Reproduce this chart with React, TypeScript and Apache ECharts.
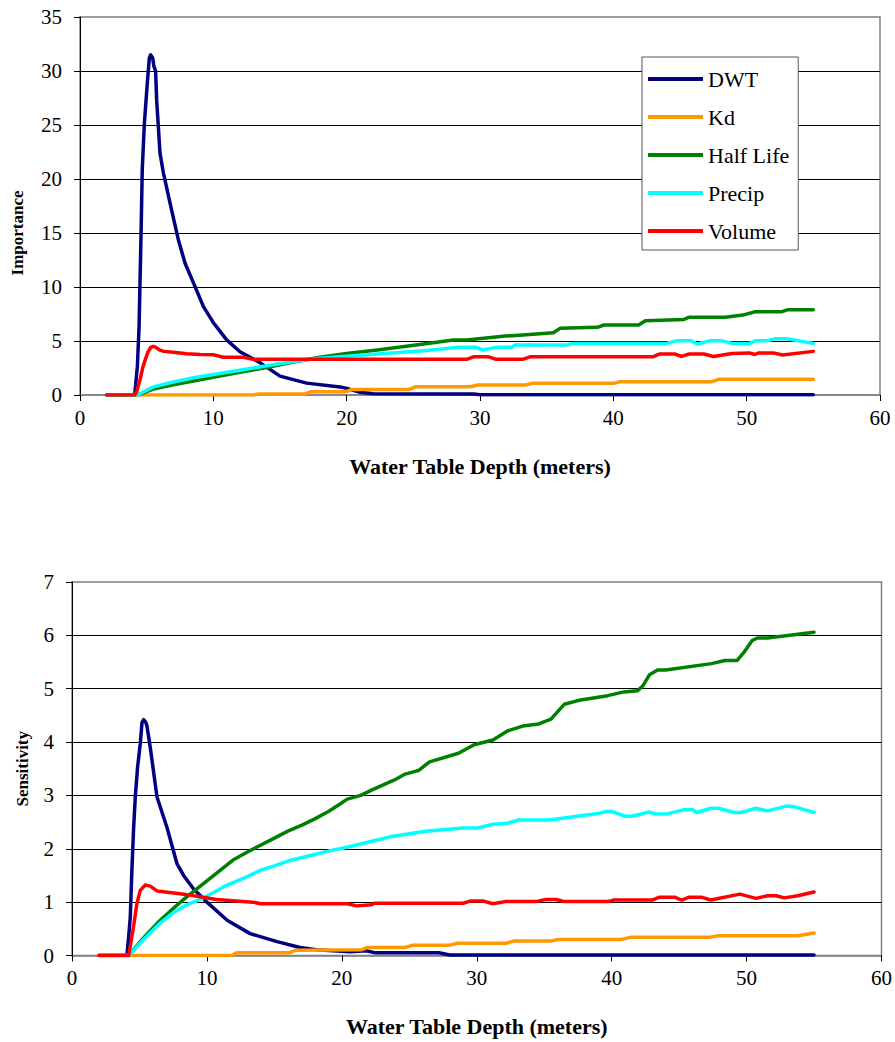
import React, { useEffect, useRef } from "react";
import * as echarts from "echarts";

type Pt = [number, number];

// ---- Importance vs. water table depth (top panel) ----
const impDWT: Pt[] = [
  [2, 0], [4.1, 0], [4.3, 2.6], [4.43, 6.3], [4.5, 10.4], [4.58, 15], [4.67, 20.9],
  [4.83, 25.2], [5.05, 28.9], [5.2, 31.2], [5.3, 31.5], [5.45, 31.2], [5.55, 30.4],
  [5.67, 30], [5.75, 27.3], [6.0, 22.4], [6.25, 20.6], [6.5, 19.2], [6.75, 17.8],
  [7.37, 14.4], [7.88, 12.2], [8.5, 10.4], [9.25, 8.2], [10, 6.7], [11, 5.1], [12, 4.0],
  [13.5, 3.0], [15, 1.75], [17, 1.1], [19.5, 0.75], [20.2, 0.55], [21, 0.25], [22, 0.12],
  [29.5, 0.1], [30, 0.02], [55, 0.02],
];
const impKd: Pt[] = [
  [2, 0], [13, 0], [13.4, 0.1], [16.9, 0.1], [17.3, 0.3], [19.9, 0.3], [20.4, 0.52],
  [24.7, 0.52], [25.2, 0.77], [29.3, 0.77], [29.8, 0.93], [33.4, 0.93], [33.9, 1.08],
  [40, 1.08], [40.5, 1.23], [47.4, 1.23], [47.9, 1.45], [55, 1.45],
];
const impHalfLife: Pt[] = [
  [2, 0], [4.3, 0], [5.5, 0.55], [7, 0.95], [8.5, 1.3], [10, 1.65], [12, 2.1], [14, 2.55],
  [16, 3.05], [18, 3.5], [20, 3.85], [22.3, 4.17], [25.2, 4.63], [28, 5.09], [29, 5.09],
  [31.9, 5.46], [33.2, 5.55], [35.5, 5.77], [36, 6.17], [38.8, 6.27], [39.3, 6.48],
  [41.9, 6.48], [42.4, 6.88], [45.3, 7.0], [45.7, 7.2], [48.4, 7.2], [49.7, 7.4],
  [50.6, 7.7], [52.6, 7.7], [53.1, 7.9], [55, 7.9],
];
const impPrecip: Pt[] = [
  [2, 0], [4.3, 0], [5.5, 0.75], [7, 1.2], [8.5, 1.6], [10, 1.9], [12, 2.3], [14, 2.7],
  [16, 3.1], [18, 3.4], [19.5, 3.55], [22.3, 3.8], [25.8, 4.1], [28.3, 4.41], [29.7, 4.41],
  [30.2, 4.17], [31.2, 4.41], [32.4, 4.41], [32.6, 4.63], [36.5, 4.63], [37, 4.78],
  [44, 4.78], [44.8, 5.03], [45.8, 5.03], [46.3, 4.72], [47.3, 5.03], [48.1, 5.03],
  [48.9, 4.78], [50.2, 4.78], [50.7, 5.03], [51.6, 5.03], [52.1, 5.2], [53, 5.2], [55, 4.78],
];
const impVolume: Pt[] = [
  [2, 0], [4.1, 0], [4.25, 0.3], [4.5, 1.4], [4.7, 2.5], [4.9, 3.3], [5.1, 4.0], [5.3, 4.4],
  [5.5, 4.5], [5.7, 4.4], [6.0, 4.15], [6.3, 4.04], [7, 3.95], [8, 3.82], [9, 3.75],
  [10, 3.73], [10.75, 3.5], [12.25, 3.5], [13, 3.3], [29, 3.3], [29.55, 3.55], [30.6, 3.55],
  [31.2, 3.3], [33.2, 3.3], [33.8, 3.55], [43, 3.55], [43.5, 3.8], [44.6, 3.8], [45.1, 3.57],
  [45.7, 3.8], [46.8, 3.8], [47.5, 3.57], [48.9, 3.85], [50.2, 3.9], [50.6, 3.75],
  [50.9, 3.9], [52, 3.9], [52.7, 3.7], [55, 4.04],
];

// ---- Sensitivity vs. water table depth (bottom panel) ----
const senDWT: Pt[] = [
  [2, 0], [4.07, 0], [4.2, 0.35], [4.32, 0.72], [4.44, 1.6], [4.56, 2.35], [4.69, 2.97],
  [4.86, 3.53], [5.06, 3.97], [5.19, 4.37], [5.31, 4.42], [5.45, 4.38], [5.55, 4.31],
  [5.8, 3.9], [6.3, 2.97], [7.04, 2.4], [7.78, 1.72], [8.27, 1.5], [9.0, 1.25], [10, 1.0],
  [11.5, 0.66], [13.2, 0.41], [15.2, 0.26], [16.9, 0.15], [18.1, 0.11], [20.6, 0.07],
  [21.8, 0.09], [22.5, 0.05], [27.2, 0.05], [28, 0.01], [55, 0.01],
];
const senKd: Pt[] = [
  [2, 0], [11.8, 0], [12.2, 0.05], [16.1, 0.05], [16.6, 0.1], [21.5, 0.11], [21.9, 0.15],
  [24.7, 0.15], [25.2, 0.19], [27.9, 0.19], [28.6, 0.23], [32.2, 0.23], [32.7, 0.27],
  [35.5, 0.27], [36, 0.3], [40.7, 0.3], [41.4, 0.34], [47.2, 0.34], [47.9, 0.37],
  [53.8, 0.37], [55, 0.42],
];
const senHalfLife: Pt[] = [
  [2, 0], [4.2, 0], [5.3, 0.33], [6.5, 0.65], [7.5, 0.88], [8.5, 1.1], [10, 1.4], [11, 1.6],
  [12, 1.8], [13, 1.94], [14, 2.07], [15, 2.2], [16, 2.33], [17, 2.44], [18, 2.56], [19, 2.7],
  [19.87, 2.84], [20.4, 2.93], [21.4, 3.0], [22.2, 3.1], [23.9, 3.29], [24.7, 3.4],
  [25.7, 3.47], [26.5, 3.63], [28.65, 3.79], [29.8, 3.95], [31.2, 4.04], [32.3, 4.21],
  [33.4, 4.3], [34.6, 4.34], [35.5, 4.43], [36.5, 4.71], [37.7, 4.79], [39.7, 4.87],
  [40.9, 4.94], [41.9, 4.96], [42.3, 5.05], [42.8, 5.26], [43.4, 5.35], [44.0, 5.35],
  [47.4, 5.47], [48.4, 5.53], [49.3, 5.53], [49.8, 5.68], [50.4, 5.9], [50.8, 5.95],
  [51.55, 5.95], [55, 6.06],
];
const senPrecip: Pt[] = [
  [2, 0], [4.2, 0], [5.3, 0.3], [6.5, 0.6], [7.5, 0.8], [8.5, 0.95], [9.5, 1.05],
  [10.5, 1.18], [11.5, 1.32], [13, 1.48], [14, 1.6], [15, 1.68], [16, 1.77], [17.6, 1.87],
  [19.4, 1.98], [19.87, 2.0], [21.4, 2.09], [23.7, 2.23], [26.2, 2.33], [29.0, 2.39],
  [30.05, 2.39], [31.2, 2.46], [32.3, 2.48], [33.1, 2.54], [35.4, 2.54], [37.7, 2.62],
  [39.0, 2.66], [39.6, 2.7], [40.0, 2.7], [41.0, 2.61], [41.5, 2.61], [42.8, 2.69],
  [43.3, 2.65], [44.05, 2.65], [45.3, 2.73], [46.0, 2.73], [46.3, 2.68], [47.35, 2.76],
  [47.9, 2.76], [49.1, 2.68], [49.6, 2.68], [50.7, 2.76], [51.55, 2.71], [52.95, 2.8],
  [53.5, 2.79], [55, 2.68],
];
const senVolume: Pt[] = [
  [2, 0], [4.2, 0], [4.56, 0.54], [4.81, 0.97], [5.06, 1.22], [5.43, 1.32], [5.8, 1.3],
  [6.3, 1.21], [8.3, 1.15], [10.7, 1.05], [13.4, 1.0], [14, 0.97], [20.4, 0.97],
  [21.1, 0.93], [22.2, 0.95], [22.4, 0.98], [29, 0.98], [29.5, 1.02], [30.5, 1.02],
  [31.2, 0.97], [32.1, 1.01], [34.4, 1.01], [35.1, 1.05], [35.9, 1.05], [36.5, 1.01],
  [39.7, 1.01], [40.2, 1.04], [43, 1.04], [43.5, 1.09], [44.7, 1.09], [45.2, 1.04],
  [45.7, 1.09], [46.7, 1.09], [47.35, 1.04], [49.5, 1.15], [50.7, 1.07], [51.55, 1.12],
  [52.2, 1.12], [52.8, 1.08], [53.8, 1.12], [55, 1.19],
];

const seriesNames = ["DWT", "Kd", "Half Life", "Precip", "Volume"];
const seriesColors = ["#000080", "#FF9900", "#008000", "#00FFFF", "#FF0000"];
const importanceData = [impDWT, impKd, impHalfLife, impPrecip, impVolume];
const sensitivityData = [senDWT, senKd, senHalfLife, senPrecip, senVolume];

const xTitle = "Water Table Depth (meters)";
const FONT = "serif";

function xAxisFor(gridIndex: number) {
  return {
    gridIndex,
    type: "value",
    min: 0,
    max: 60,
    interval: 10,
    name: xTitle,
    nameLocation: "middle",
    nameGap: 60,
    nameTextStyle: { fontFamily: FONT, fontSize: 22, fontWeight: "bold", color: "#000" },
    axisLine: { show: true, onZero: false, lineStyle: { color: "#808080", width: 1.5 } },
    axisTick: { show: true, length: 6, lineStyle: { color: "#000" } },
    axisLabel: { fontFamily: FONT, fontSize: 21, color: "#000", margin: 12 },
    splitLine: { show: false },
  };
}

function yAxisFor(
  gridIndex: number,
  name: string,
  max: number,
  interval: number,
  gap: number,
  namePadding: number[]
) {
  return {
    gridIndex,
    type: "value",
    min: 0,
    max,
    interval,
    name,
    nameLocation: "middle",
    nameGap: gap,
    nameRotate: 90,
    nameTextStyle: {
      fontFamily: FONT,
      fontSize: 17,
      fontWeight: "bold",
      color: "#000",
      padding: namePadding,
    },
    axisLine: { show: true, lineStyle: { color: "#000", width: 1 } },
    axisTick: { show: true, length: 6, lineStyle: { color: "#000" } },
    axisLabel: { fontFamily: FONT, fontSize: 21, color: "#000", margin: 18 },
    splitLine: { show: true, showMinLine: false, showMaxLine: false, lineStyle: { color: "#000", width: 1 } },
  };
}

function lineSeries(data: Pt[], idx: number, axisIndex: number) {
  return {
    name: seriesNames[idx],
    type: "line",
    xAxisIndex: axisIndex,
    yAxisIndex: axisIndex,
    data,
    symbol: "none",
    showSymbol: false,
    z: 2 + idx,
    lineStyle: { color: seriesColors[idx], width: 3.5, cap: "round", join: "round" },
    itemStyle: { color: seriesColors[idx] },
  };
}

export default function App() {
  const ref = useRef<HTMLDivElement>(null);

  useEffect(() => {
    if (!ref.current) return;
    const chart = echarts.init(ref.current, undefined, { renderer: "svg" });
    const option = {
      animation: false,
      backgroundColor: "#ffffff",
      textStyle: { fontFamily: FONT },
      grid: [
        { left: 80, right: 15, top: 17, height: 378, show: true, borderColor: "#808080", borderWidth: 1.5 },
        { left: 72, right: 13, top: 582, height: 373.5, show: true, borderColor: "#808080", borderWidth: 1.5 },
      ],
      xAxis: [xAxisFor(0), xAxisFor(1)],
      yAxis: [
        yAxisFor(0, "Importance", 35, 5, 54, [0, 54, 0, 0]),
        yAxisFor(1, "Sensitivity", 7, 1, 41, [0, 0, 0, 0]),
      ],
      legend: {
        orient: "vertical",
        left: 642,
        top: 57,
        data: seriesNames,
        icon: "rect",
        itemWidth: 55,
        itemHeight: 4,
        itemGap: 16,
        padding: [11, 9, 8, 6],
        backgroundColor: "#ffffff",
        borderColor: "#555555",
        borderWidth: 1,
        textStyle: { fontFamily: FONT, fontSize: 22, color: "#000" },
        selectedMode: false,
      },
      series: [
        ...importanceData.map((d, i) => lineSeries(d, i, 0)),
        ...sensitivityData.map((d, i) => lineSeries(d, i, 1)),
      ],
    };
    chart.setOption(option as any);
    return () => chart.dispose();
  }, []);

  return (
    <div
      ref={ref}
      style={{ position: "fixed", left: 0, top: 0, width: 895, height: 1042, background: "#fff" }}
    />
  );
}
